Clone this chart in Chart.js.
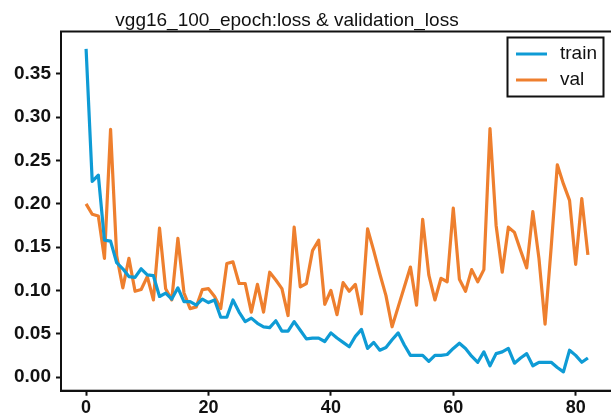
<!DOCTYPE html>
<html>
<head>
<meta charset="utf-8">
<script src="https://cdn.jsdelivr.net/npm/chart.js@4.4.1/dist/chart.umd.min.js"></script>
<style>
html,body{margin:0;padding:0;background:#fff;overflow:hidden;width:611px;height:419px;}
canvas{display:block;}
</style>
</head>
<body>
<canvas id="c" width="620" height="419"></canvas>
<script>
const chartTitle = "vgg16_100_epoch:loss & validation_loss";
const seriesNames = ["train", "val"];
const xTicks = [0, 20, 40, 60, 80];
const yTicks = [0.00, 0.05, 0.10, 0.15, 0.20, 0.25, 0.30, 0.35];
const trainLoss = [
  0.379, 0.226, 0.233, 0.158, 0.157, 0.132, 0.125, 0.116, 0.115, 0.125,
  0.118, 0.117, 0.093, 0.097, 0.090, 0.103, 0.087, 0.087, 0.083, 0.090,
  0.086, 0.089, 0.069, 0.069, 0.089, 0.075, 0.064, 0.068, 0.062, 0.058,
  0.057, 0.065, 0.053, 0.053, 0.064, 0.054, 0.044, 0.045, 0.045, 0.041,
  0.051, 0.045, 0.040, 0.035, 0.047, 0.055, 0.033, 0.040, 0.031, 0.034,
  0.043, 0.051, 0.037, 0.025, 0.025, 0.025, 0.018, 0.025, 0.025, 0.026,
  0.033, 0.039, 0.033, 0.024, 0.017, 0.029, 0.013, 0.027, 0.029, 0.033,
  0.016, 0.022, 0.027, 0.013, 0.017, 0.017, 0.017, 0.011, 0.006, 0.031,
  0.025, 0.017, 0.022
];
const valLoss = [
  0.200, 0.188, 0.186, 0.137, 0.286, 0.140, 0.103, 0.137, 0.099, 0.101,
  0.116, 0.089, 0.172, 0.102, 0.089, 0.160, 0.097, 0.079, 0.081, 0.101,
  0.102, 0.093, 0.079, 0.131, 0.133, 0.108, 0.108, 0.075, 0.107, 0.075,
  0.121, 0.112, 0.102, 0.071, 0.173, 0.104, 0.108, 0.146, 0.158, 0.084,
  0.100, 0.072, 0.109, 0.099, 0.107, 0.073, 0.171, 0.146, 0.119, 0.094,
  0.058, 0.081, 0.104, 0.127, 0.083, 0.182, 0.118, 0.089, 0.114, 0.110,
  0.195, 0.113, 0.099, 0.124, 0.110, 0.124, 0.287, 0.175, 0.121, 0.173,
  0.167, 0.146, 0.126, 0.191, 0.137, 0.061, 0.150, 0.245, 0.223, 0.204,
  0.130, 0.206, 0.141
];
const epochs = trainLoss.map((_, i) => i);
const colors = ["#0e9bd5", "#ee7f2e"];

const FONT = "'Liberation Sans', Arial, sans-serif";

const framePlugin = {
  id: 'frame',
  afterDraw(chart) {
    const {ctx, chartArea: a} = chart;
    ctx.save();
    ctx.strokeStyle = '#111';
    ctx.lineWidth = 2;
    ctx.strokeRect(a.left, a.top, a.right - a.left, a.bottom - a.top);
    // title
    ctx.fillStyle = '#111';
    ctx.font = "19px " + FONT;
    ctx.textAlign = 'center';
    ctx.textBaseline = 'alphabetic';
    ctx.fillText(chartTitle, 287, 26);
    // legend
    const lx = 507.5, ly = 37.5, lw = 96, lh = 59;
    ctx.fillStyle = '#fff';
    ctx.fillRect(lx, ly, lw, lh);
    ctx.lineWidth = 2;
    ctx.strokeStyle = '#111';
    ctx.strokeRect(lx, ly, lw, lh);
    chart.data.datasets.forEach((ds, i) => {
      const y = 54 + i * 26;
      ctx.strokeStyle = ds.borderColor;
      ctx.lineWidth = 3;
      ctx.beginPath();
      ctx.moveTo(516, y);
      ctx.lineTo(547, y);
      ctx.stroke();
      ctx.fillStyle = '#111';
      ctx.font = "19px " + FONT;
      ctx.textAlign = 'left';
      ctx.textBaseline = 'middle';
      ctx.fillText(ds.label, 560, y);
    });
    ctx.restore();
  }
};

new Chart(document.getElementById('c'), {
  type: 'line',
  data: {
    labels: epochs,
    datasets: [
      {label: seriesNames[0], data: trainLoss.map((v, i) => ({x: epochs[i], y: v})), borderColor: colors[0], backgroundColor: colors[0], borderWidth: 3.2, pointRadius: 0, tension: 0, borderJoinStyle: 'round'},
      {label: seriesNames[1], data: valLoss.map((v, i) => ({x: epochs[i], y: v})), borderColor: colors[1], backgroundColor: colors[1], borderWidth: 3.2, pointRadius: 0, tension: 0, borderJoinStyle: 'round'}
    ]
  },
  options: {
    responsive: false,
    animation: false,
    devicePixelRatio: 1,
    layout: {padding: {top: 31.5, right: 7, left: 0, bottom: 0}},
    plugins: {legend: {display: false}, title: {display: false}, tooltip: {enabled: false}},
    scales: {
      x: {
        type: 'linear',
        min: -4.1, max: 86.1,
        afterBuildTicks: s => { s.ticks = xTicks.map(v => ({value: v})); },
        afterFit: s => { s.height = 28.3; },
        grid: {drawOnChartArea: false, drawTicks: true, tickLength: 5, tickWidth: 2, tickColor: '#111'},
        border: {display: true, color: '#111', width: 2},
        ticks: {color: '#111', font: {family: FONT, size: 18, weight: 'bold'}, padding: 2, maxRotation: 0, callback: v => String(v)}
      },
      y: {
        type: 'linear',
        min: -0.0158, max: 0.399,
        afterBuildTicks: s => { s.ticks = yTicks.map(v => ({value: v})); },
        afterFit: s => { s.width = 61; },
        grid: {drawOnChartArea: false, drawTicks: true, tickLength: 5, tickWidth: 2, tickColor: '#111'},
        border: {display: true, color: '#111', width: 2},
        ticks: {color: '#111', font: {family: FONT, size: 19, weight: 'bold'}, padding: 5, callback: v => Number(v).toFixed(2)}
      }
    }
  },
  plugins: [framePlugin]
});
</script>
</body>
</html>
